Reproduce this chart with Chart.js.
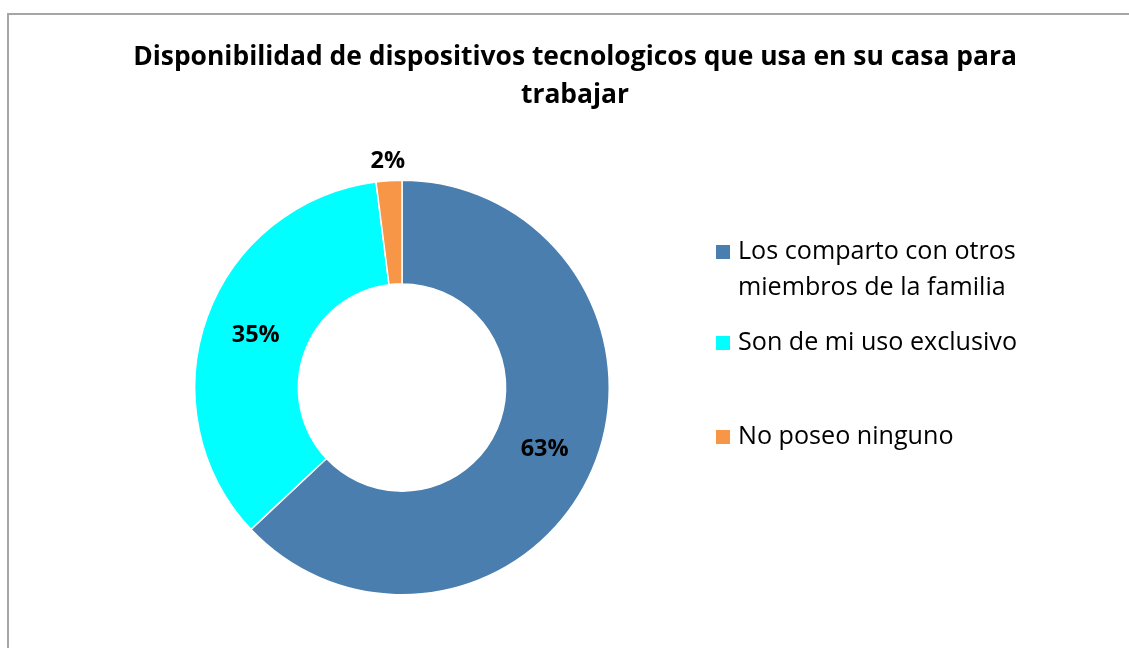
<!DOCTYPE html>
<html>
<head>
<meta charset="utf-8">
<script src="https://cdn.jsdelivr.net/npm/chart.js@4.4.1/dist/chart.umd.min.js"></script>
<style>
html,body{margin:0;padding:0;background:#fff;}
#wrap{position:relative;width:1129px;height:648px;}
</style>
</head>
<body>
<div id="wrap"><canvas id="c" width="1129" height="648"></canvas></div>
<script>
const titleLines = ["Disponibilidad de dispositivos tecnologicos que usa en su casa para", "trabajar"];
const categories = [["Los comparto con otros", "miembros de la familia"], ["Son de mi uso exclusivo"], ["No poseo ninguno"]];
const values = [63, 35, 2];
const percentLabels = ["63%", "35%", "2%"];
const colors = ["#4A7EAE", "#00FFFF", "#F79646"];

const FONT = "'Open Sans', sans-serif";

// choose a font size so a reference string spans the wanted width
function fitSize(ctx, weight, text, target) {
  ctx.font = weight + " 20px " + FONT;
  return 20 * target / ctx.measureText(text).width;
}

const framePlugin = {
  id: 'frame',
  beforeDraw(chart) {
    const ctx = chart.ctx;
    ctx.save();
    ctx.fillStyle = '#fff';
    ctx.fillRect(0, 0, chart.width, chart.height);
    ctx.strokeStyle = '#A6A6A6';
    ctx.lineWidth = 2;
    ctx.beginPath();
    ctx.moveTo(8, 660);
    ctx.lineTo(8, 14);
    ctx.lineTo(1140, 14);
    ctx.stroke();
    ctx.restore();
  }
};

const textPlugin = {
  id: 'texts',
  afterDraw(chart) {
    const ctx = chart.ctx;
    ctx.save();
    // title
    ctx.fillStyle = '#000';
    const ts = fitSize(ctx, 'bold', titleLines[0], 884);
    ctx.font = "bold " + ts + "px " + FONT;
    ctx.textAlign = 'center';
    ctx.textBaseline = 'middle';
    ctx.fillText(titleLines[0], 575, 57);
    ctx.fillText(titleLines[1], 575, 95);

    // data labels
    const meta = chart.getDatasetMeta(0);
    const ls = fitSize(ctx, 'bold', percentLabels[0], 48);
    ctx.font = "bold " + ls + "px " + FONT;
    meta.data.forEach((arc, i) => {
      const p = arc.getProps(['x','y','startAngle','endAngle','innerRadius','outerRadius'], true);
      const mid = (p.startAngle + p.endAngle) / 2;
      const frac = values[i] / values.reduce((a,b)=>a+b,0);
      const r = frac < 0.05 ? p.outerRadius + 19 : (p.innerRadius + p.outerRadius) / 2;
      ctx.fillText(percentLabels[i], p.x + Math.cos(mid) * r, p.y + Math.sin(mid) * r);
    });

    // legend
    ctx.textAlign = 'left';
    const gs = fitSize(ctx, 'normal', categories[0][0], 278);
    ctx.font = gs + "px " + FONT;
    const itemY = [252, 343, 437];
    categories.forEach((lines, i) => {
      ctx.fillStyle = colors[i];
      ctx.fillRect(716, itemY[i] - 7, 14, 14);
      ctx.fillStyle = '#000';
      lines.forEach((t, j) => ctx.fillText(t, 738, itemY[i] + j * 36));
    });
    ctx.restore();
  }
};

new Chart(document.getElementById('c'), {
  type: 'doughnut',
  data: {
    labels: categories.map(l => l.join(' ')),
    datasets: [{
      data: values,
      backgroundColor: colors,
      borderColor: '#fff',
      borderWidth: 1.5
    }]
  },
  options: {
    responsive: false,
    animation: false,
    cutout: '50%',
    rotation: 0,
    layout: { padding: { left: 194, right: 519, top: 179, bottom: 52 } },
    plugins: {
      legend: { display: false },
      title: { display: false },
      tooltip: { enabled: false }
    }
  },
  plugins: [framePlugin, textPlugin]
});
</script>
</body>
</html>
